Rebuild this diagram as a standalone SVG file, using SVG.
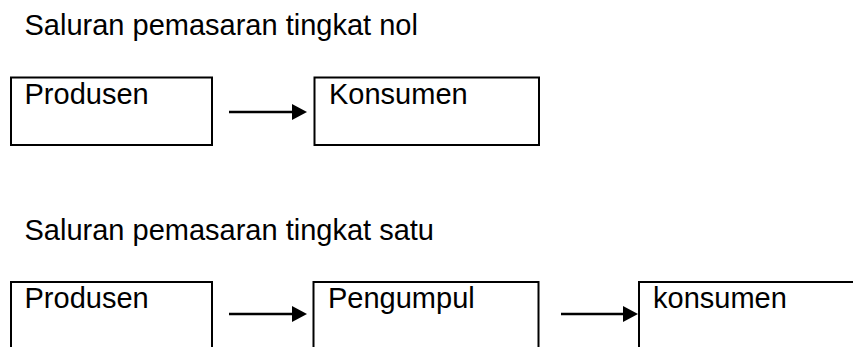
<svg xmlns="http://www.w3.org/2000/svg" width="853" height="347" viewBox="0 0 853 347">
<style>
.t{font-family:"Liberation Sans",Arial,sans-serif;font-size:29px;fill:#000}
.box{fill:#fff;stroke:#000;stroke-width:2}
.con{stroke:#000;stroke-width:2.5;fill:none}
</style>
<defs>
<marker id="ah" markerUnits="userSpaceOnUse" markerWidth="16" markerHeight="16" refX="0" refY="8" orient="auto">
<path d="M0,0 L15,8 L0,16 z" fill="#000"/>
</marker>
</defs>
<rect width="853" height="347" fill="#fff"/>
<text class="t" x="24.5" y="35">Saluran pemasaran tingkat nol</text>
<text class="t" x="24.5" y="240">Saluran pemasaran tingkat satu</text>
<g id="n-produsen-1">
<rect class="box" x="11" y="77.5" width="201" height="67.5"/>
<text class="t" x="24.5" y="104">Produsen</text>
</g>
<g id="n-konsumen-1">
<rect class="box" x="314.5" y="77.5" width="224.5" height="67.5"/>
<text class="t" x="329" y="104">Konsumen</text>
</g>
<g id="n-produsen-2">
<rect class="box" x="11" y="282" width="201" height="100"/>
<text class="t" x="24.5" y="308">Produsen</text>
</g>
<g id="n-pengumpul">
<rect class="box" x="313.5" y="282" width="225" height="100"/>
<text class="t" x="328" y="308">Pengumpul</text>
</g>
<g id="n-konsumen-2">
<rect class="box" x="639" y="282" width="250" height="100"/>
<text class="t" x="653" y="308">konsumen</text>
</g>
<g id="connectors">
<line class="con" x1="229" y1="112" x2="292" y2="112" marker-end="url(#ah)"/>
<line class="con" x1="229" y1="314" x2="292" y2="314" marker-end="url(#ah)"/>
<line class="con" x1="561" y1="314" x2="623" y2="314" marker-end="url(#ah)"/>
</g>
</svg>
